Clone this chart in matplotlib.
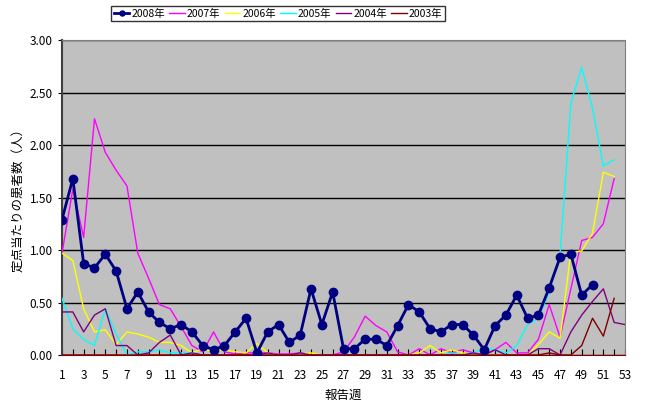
import matplotlib
matplotlib.use("Agg")
import matplotlib.pyplot as plt
import numpy as np

plt.rcParams['font.family'] = ['Noto Sans CJK JP', 'DejaVu Sans']

y2008 = [1.29, 1.68, 0.87, 0.83, 0.96, 0.80, 0.44, 0.60, 0.41, 0.31,
         0.25, 0.29, 0.22, 0.09, 0.05, 0.09, 0.22, 0.35, 0.02, 0.22,
         0.29, 0.12, 0.19, 0.63, 0.29, 0.60, 0.06, 0.06, 0.15, 0.15,
         0.09, 0.28, 0.48, 0.41, 0.25, 0.22, 0.29, 0.29, 0.19, 0.05,
         0.28, 0.38, 0.57, 0.35, 0.38, 0.64, 0.93, 0.96, 0.57, 0.67]
y2007 = [0.97, 1.58, 1.12, 2.25, 1.93, 1.76, 1.61, 0.97, 0.73, 0.48,
         0.44, 0.27, 0.09, 0.03, 0.22, 0.03, 0.01, 0.02, 0.02, 0.02,
         0.01, 0.01, 0.02, 0.00, 0.00, 0.00, 0.03, 0.17, 0.37, 0.28,
         0.22, 0.03, 0.00, 0.06, 0.00, 0.06, 0.02, 0.05, 0.02, 0.00,
         0.05, 0.12, 0.02, 0.02, 0.15, 0.48, 0.17, 0.63, 1.09, 1.12,
         1.25, 1.68]
y2006 = [0.97, 0.90, 0.44, 0.22, 0.24, 0.10, 0.22, 0.20, 0.17, 0.12,
         0.12, 0.09, 0.02, 0.06, 0.03, 0.05, 0.03, 0.02, 0.11, 0.02,
         0.00, 0.00, 0.01, 0.02, 0.00, 0.00, 0.00, 0.00, 0.00, 0.00,
         0.00, 0.00, 0.00, 0.02, 0.09, 0.02, 0.05, 0.02, 0.00, 0.00,
         0.00, 0.00, 0.00, 0.00, 0.10, 0.22, 0.16, 0.98, 0.99, 1.16,
         1.74, 1.70]
y2005 = [0.54, 0.25, 0.15, 0.09, 0.44, 0.20, 0.00, 0.03, 0.03, 0.05,
         0.02, 0.02, 0.02, 0.00, 0.00, 0.00, 0.00, 0.00, 0.00, 0.00,
         0.00, 0.00, 0.00, 0.00, 0.00, 0.00, 0.00, 0.00, 0.00, 0.00,
         0.00, 0.00, 0.00, 0.00, 0.00, 0.00, 0.02, 0.00, 0.02, 0.06,
         0.05, 0.02, 0.09, 0.29, 0.35, 0.60, 0.95, 2.40, 2.74, 2.35,
         1.80, 1.86]
y2004 = [0.41, 0.41, 0.22, 0.38, 0.44, 0.09, 0.09, 0.00, 0.02, 0.12,
         0.19, 0.00, 0.02, 0.00, 0.00, 0.00, 0.00, 0.00, 0.00, 0.02,
         0.00, 0.00, 0.02, 0.00, 0.00, 0.00, 0.00, 0.00, 0.00, 0.00,
         0.00, 0.00, 0.00, 0.00, 0.00, 0.00, 0.00, 0.00, 0.02, 0.00,
         0.05, 0.00, 0.00, 0.00, 0.06, 0.06, 0.00, 0.22, 0.38, 0.51,
         0.63, 0.31, 0.29]
y2003 = [0.00] * 45 + [0.02, 0.00, 0.00, 0.09, 0.35, 0.18, 0.54]

series = [
    ("2008年", y2008, "#000080"),
    ("2007年", y2007, "#FF00FF"),
    ("2006年", y2006, "#FFFF00"),
    ("2005年", y2005, "#00FFFF"),
    ("2004年", y2004, "#800080"),
    ("2003年", y2003, "#800000"),
]

fig = plt.figure(figsize=(6.46, 4.07), dpi=100)
ax = fig.add_axes([62/646, 1-355/407, (625-62)/646, (355-40)/407])
ax.set_facecolor("#C0C0C0")

handles = []
for name, vals, col in series:
    x = np.arange(1, len(vals) + 1)
    if name == "2008年":
        h, = ax.plot(x, vals, color=col, lw=2, marker='o', ms=6, zorder=5, label=name)
    else:
        h, = ax.plot(x, vals, color=col, lw=1, zorder=3, label=name)
    handles.append(h)

ax.set_xlim(1, 53)
ax.set_ylim(0, 3.0)
ax.set_yticks(np.arange(0, 3.01, 0.5))
ax.set_yticklabels([f"{v:.2f}" for v in np.arange(0, 3.01, 0.5)])
ax.set_xticks(np.arange(1, 54, 2))
ax.set_xticks(np.arange(1, 54, 1), minor=True)
ax.tick_params(axis='x', which='both', direction='in', length=4, width=0.8, labelsize=8.5, pad=10)
ax.tick_params(axis='y', direction='out', length=3, labelsize=8.5)
ax.grid(axis='y', color='black', lw=1)
ax.set_axisbelow(True)
for s in ['top', 'right']:
    ax.spines[s].set_color('#808080')
ax.spines['left'].set_color('#404040')
ax.spines['left'].set_linewidth(1.5)
ax.spines['bottom'].set_color('#800000')

ax.set_xlabel("報告週", fontsize=9, labelpad=5)
ax.set_ylabel("定点当たりの患者数（人）", fontsize=9)

leg = fig.legend(handles=handles, loc='center', bbox_to_anchor=(278/646, 1-13.5/407),
                 ncol=6, fontsize=7.5, frameon=True, fancybox=False, edgecolor='black',
                 handlelength=1.5, handletextpad=0.2, columnspacing=0.4,
                 borderpad=0.25, borderaxespad=0, markerscale=0.6)
leg.get_frame().set_linewidth(1)

fig.savefig("out.png", dpi=100)
